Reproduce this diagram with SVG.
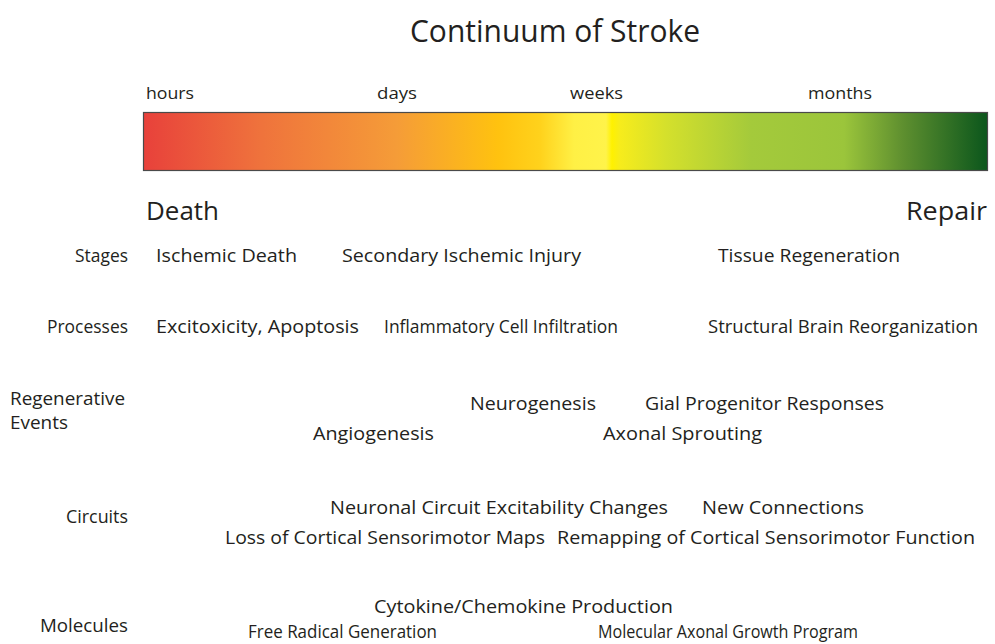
<svg xmlns="http://www.w3.org/2000/svg" width="995" height="644" viewBox="0 0 995 644">
  <style>
    text { font-family: "Open Sans", "Liberation Sans", sans-serif; fill: #231f20; }
    .t { font-size: 31px; }
    .tick { font-size: 17px; }
    .end { font-size: 25px; }
    .lab { font-size: 18px; }
    .item { font-size: 19px; }
    .r { text-anchor: end; }
  </style>
  <defs>
    <linearGradient id="timeline" x1="0" y1="0" x2="1" y2="0">
      <stop offset="0" stop-color="#e8413b"/>
      <stop offset="0.14" stop-color="#ef733c"/>
      <stop offset="0.3" stop-color="#f59c38"/>
      <stop offset="0.42" stop-color="#ffc20f"/>
      <stop offset="0.47" stop-color="#ffd21c"/>
      <stop offset="0.51" stop-color="#fff045"/>
      <stop offset="0.548" stop-color="#fff34a"/>
      <stop offset="0.555" stop-color="#fff100"/>
      <stop offset="0.565" stop-color="#f6ec1c"/>
      <stop offset="0.62" stop-color="#d4e02c"/>
      <stop offset="0.72" stop-color="#a4ca3b"/>
      <stop offset="0.83" stop-color="#9bc53b"/>
      <stop offset="0.9" stop-color="#5e8f2f"/>
      <stop offset="1" stop-color="#0b561c"/>
    </linearGradient>
  </defs>

  <text class="t" x="555" y="42" text-anchor="middle" textLength="290" lengthAdjust="spacingAndGlyphs">Continuum of Stroke</text>

  <g id="timescale">
    <text class="tick" x="146" y="99" textLength="48" lengthAdjust="spacingAndGlyphs">hours</text>
    <text class="tick" x="377" y="99" textLength="40" lengthAdjust="spacingAndGlyphs">days</text>
    <text class="tick" x="570" y="99" textLength="53" lengthAdjust="spacingAndGlyphs">weeks</text>
    <text class="tick" x="808" y="99" textLength="64" lengthAdjust="spacingAndGlyphs">months</text>
    <rect x="143.5" y="112.5" width="844" height="58" fill="url(#timeline)" stroke="#4a4a4a" stroke-width="1.2"/>
    <text class="end" x="146" y="220" textLength="73" lengthAdjust="spacingAndGlyphs">Death</text>
    <text class="end r" x="987" y="220" textLength="81" lengthAdjust="spacingAndGlyphs">Repair</text>
  </g>

  <g id="stages">
    <text class="lab r" x="128" y="262" textLength="53" lengthAdjust="spacingAndGlyphs">Stages</text>
    <text class="item" x="156" y="262" textLength="141" lengthAdjust="spacingAndGlyphs">Ischemic Death</text>
    <text class="item" x="342" y="262" textLength="239" lengthAdjust="spacingAndGlyphs">Secondary Ischemic Injury</text>
    <text class="item" x="718" y="262" textLength="182" lengthAdjust="spacingAndGlyphs">Tissue Regeneration</text>
  </g>

  <g id="processes">
    <text class="lab r" x="128" y="333" textLength="81" lengthAdjust="spacingAndGlyphs">Processes</text>
    <text class="item" x="156" y="333" textLength="203" lengthAdjust="spacingAndGlyphs">Excitoxicity, Apoptosis</text>
    <text class="item" x="384" y="333" textLength="234" lengthAdjust="spacingAndGlyphs">Inflammatory Cell Infiltration</text>
    <text class="item" x="708" y="333" textLength="270" lengthAdjust="spacingAndGlyphs">Structural Brain Reorganization</text>
  </g>

  <g id="regenerative-events">
    <text class="lab" x="10" y="405" textLength="115" lengthAdjust="spacingAndGlyphs">Regenerative</text>
    <text class="lab" x="10" y="429" textLength="58" lengthAdjust="spacingAndGlyphs">Events</text>
    <text class="item" x="470" y="410" textLength="126" lengthAdjust="spacingAndGlyphs">Neurogenesis</text>
    <text class="item" x="645" y="410" textLength="239" lengthAdjust="spacingAndGlyphs">Gial Progenitor Responses</text>
    <text class="item" x="313" y="440" textLength="121" lengthAdjust="spacingAndGlyphs">Angiogenesis</text>
    <text class="item" x="603" y="440" textLength="159" lengthAdjust="spacingAndGlyphs">Axonal Sprouting</text>
  </g>

  <g id="circuits">
    <text class="lab r" x="128" y="523" textLength="62" lengthAdjust="spacingAndGlyphs">Circuits</text>
    <text class="item" x="330" y="514" textLength="338" lengthAdjust="spacingAndGlyphs">Neuronal Circuit Excitability Changes</text>
    <text class="item" x="702" y="514" textLength="162" lengthAdjust="spacingAndGlyphs">New Connections</text>
    <text class="item" x="225" y="544" textLength="320" lengthAdjust="spacingAndGlyphs">Loss of Cortical Sensorimotor Maps</text>
    <text class="item" x="557" y="544" textLength="418" lengthAdjust="spacingAndGlyphs">Remapping of Cortical Sensorimotor Function</text>
  </g>

  <g id="molecules">
    <text class="lab r" x="128" y="632" textLength="88" lengthAdjust="spacingAndGlyphs">Molecules</text>
    <text class="item" x="374" y="613" textLength="299" lengthAdjust="spacingAndGlyphs">Cytokine/Chemokine Production</text>
    <text class="item" x="248" y="638" textLength="189" lengthAdjust="spacingAndGlyphs">Free Radical Generation</text>
    <text class="item" x="598" y="638" textLength="260" lengthAdjust="spacingAndGlyphs">Molecular Axonal Growth Program</text>
  </g>
</svg>
